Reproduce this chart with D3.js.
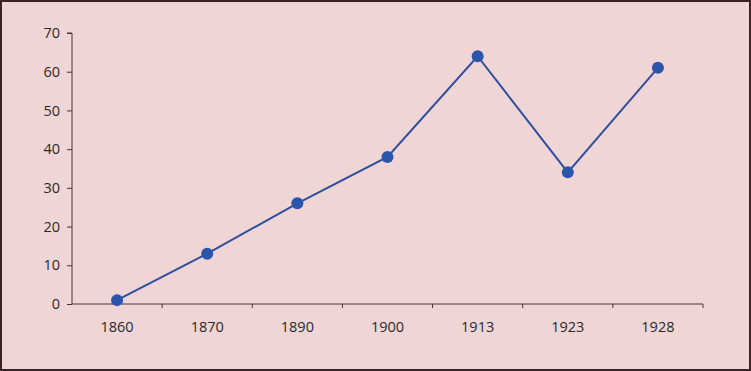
<!DOCTYPE html>
<html>
<head>
<meta charset="utf-8">
<script src="https://cdn.jsdelivr.net/npm/d3@7"></script>
<style>
  html, body { margin: 0; padding: 0; background: #efd5d6; }
  #chart { width: 751px; height: 371px; }
  text { font-family: "Open Sans", "Liberation Sans", sans-serif; }
</style>
</head>
<body>
<div id="chart"></div>
<script>
// --- chart data ---
const years = ["1860", "1870", "1890", "1900", "1913", "1923", "1928"];
const values = [1, 13, 26, 38, 64, 34, 61];
const yTicks = [0, 10, 20, 30, 40, 50, 60, 70];

const width = 751, height = 371;
const margin = { top: 33, right: 48, bottom: 67, left: 72 };

const svg = d3.select("#chart").append("svg")
    .attr("width", width)
    .attr("height", height);

// background + frame
svg.append("rect")
    .attr("x", 1).attr("y", 1)
    .attr("width", width - 2).attr("height", height - 2)
    .attr("fill", "#efd5d6")
    .attr("stroke", "#3b2226")
    .attr("stroke-width", 2);

const x = d3.scaleBand()
    .domain(years)
    .range([margin.left, width - margin.right]);

const y = d3.scaleLinear()
    .domain([0, 70])
    .range([height - margin.bottom, margin.top]);

const axisColor = "#4a3236";

// y axis
const yAxis = svg.append("g")
    .attr("transform", `translate(${margin.left},0)`)
    .call(d3.axisLeft(y).tickValues(yTicks).tickSize(5).tickPadding(7));
yAxis.attr("font-size", null);
yAxis.select(".domain").attr("stroke", axisColor).attr("d", `M-5,${y(70)}H0V${y(0)}`);
yAxis.selectAll(".tick line").attr("stroke", axisColor);
yAxis.selectAll("text").style("font-size", "14.5px").attr("fill", "#2a2a2a");

// x axis with ticks on category boundaries
const xAxisG = svg.append("g")
    .attr("transform", `translate(0,${y(0)})`);
xAxisG.append("line")
    .attr("x1", x.range()[0]).attr("x2", x.range()[1])
    .attr("stroke", axisColor);
const bounds = years.map(d => x(d)).concat([x.range()[1]]);
xAxisG.selectAll(".xt").data(bounds.slice(1)).enter().append("line")
    .attr("x1", d => d).attr("x2", d => d)
    .attr("y1", 0).attr("y2", 4)
    .attr("stroke", axisColor);
xAxisG.selectAll(".xl").data(years).enter().append("text")
    .attr("x", d => x(d) + x.bandwidth() / 2)
    .attr("y", 28)
    .attr("text-anchor", "middle")
    .style("font-size", "14.5px")
    .attr("fill", "#2a2a2a")
    .text(d => d);

// line + markers
const pts = years.map((d, i) => [x(d) + x.bandwidth() / 2, y(values[i])]);
svg.append("path")
    .attr("d", d3.line()(pts))
    .attr("fill", "none")
    .attr("stroke", "#2f4f9c")
    .attr("stroke-width", 2);

svg.selectAll(".dot").data(pts).enter().append("circle")
    .attr("cx", d => d[0]).attr("cy", d => d[1])
    .attr("r", 6)
    .attr("fill", "#2a55ab");
</script>
</body>
</html>
